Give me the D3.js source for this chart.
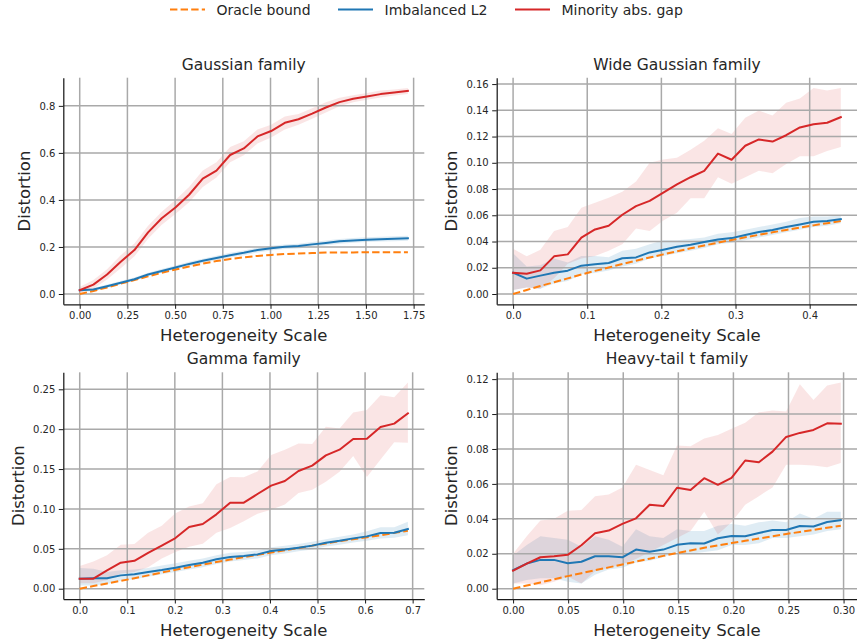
<!DOCTYPE html>
<html>
<head>
<meta charset="utf-8">
<script src="https://cdn.jsdelivr.net/npm/d3@7/dist/d3.min.js"></script>
<style>
  body { margin: 0; background: #fff; }
  svg text { font-family: "DejaVu Sans", sans-serif; fill: #262626; }
</style>
</head>
<body>
<svg id="fig" width="857" height="642"></svg>
<script>
// ---- series names ----
const seriesNames = ["Oracle bound", "Imbalanced L2", "Minority abs. gap"];

// ---- Gaussian family ----
const gaussX = [0.0, 0.0717, 0.1433, 0.215, 0.2867, 0.3583, 0.43, 0.5017, 0.5733, 0.645, 0.7167, 0.7883, 0.86, 0.9317, 1.0033, 1.075, 1.1467, 1.2183, 1.29, 1.3617, 1.4333, 1.505, 1.5767, 1.6483, 1.72];
const gaussOracle = [0.000, 0.013, 0.028, 0.044, 0.059, 0.075, 0.090, 0.104, 0.117, 0.129, 0.140, 0.149, 0.156, 0.162, 0.166, 0.170, 0.172, 0.174, 0.176, 0.177, 0.177, 0.178, 0.178, 0.178, 0.178];
const gaussL2 = [0.016, 0.019, 0.033, 0.048, 0.063, 0.083, 0.098, 0.113, 0.128, 0.141, 0.153, 0.165, 0.175, 0.187, 0.195, 0.201, 0.204, 0.211, 0.217, 0.224, 0.228, 0.231, 0.233, 0.235, 0.237];
const gaussL2Lo = [0.010, 0.012, 0.026, 0.041, 0.056, 0.076, 0.090, 0.105, 0.119, 0.132, 0.143, 0.155, 0.165, 0.177, 0.185, 0.191, 0.194, 0.201, 0.207, 0.214, 0.218, 0.221, 0.223, 0.224, 0.226];
const gaussL2Hi = [0.022, 0.026, 0.040, 0.055, 0.070, 0.090, 0.106, 0.121, 0.137, 0.150, 0.163, 0.175, 0.185, 0.197, 0.205, 0.211, 0.214, 0.221, 0.227, 0.234, 0.238, 0.241, 0.243, 0.246, 0.248];
const gaussGap = [0.016, 0.040, 0.083, 0.137, 0.187, 0.262, 0.322, 0.368, 0.422, 0.491, 0.525, 0.591, 0.619, 0.670, 0.693, 0.728, 0.743, 0.767, 0.793, 0.816, 0.830, 0.840, 0.850, 0.857, 0.864];
const gaussGapLo = [0.005, 0.022, 0.062, 0.110, 0.160, 0.235, 0.295, 0.340, 0.390, 0.455, 0.495, 0.560, 0.590, 0.640, 0.665, 0.700, 0.720, 0.745, 0.772, 0.798, 0.815, 0.826, 0.836, 0.844, 0.851];
const gaussGapHi = [0.030, 0.060, 0.105, 0.165, 0.215, 0.290, 0.350, 0.400, 0.455, 0.525, 0.560, 0.625, 0.650, 0.700, 0.720, 0.755, 0.765, 0.790, 0.815, 0.835, 0.845, 0.855, 0.865, 0.870, 0.876];
const gaussXTicks = [0, 0.25, 0.5, 0.75, 1.0, 1.25, 1.5, 1.75];
const gaussYTicks = [0, 0.2, 0.4, 0.6, 0.8];

// ---- Wide Gaussian family ----
const wideX = [0.0, 0.0184, 0.0368, 0.0553, 0.0737, 0.0921, 0.1105, 0.1289, 0.1473, 0.1658, 0.1842, 0.2026, 0.221, 0.2394, 0.2578, 0.2763, 0.2947, 0.3131, 0.3315, 0.3499, 0.3683, 0.3868, 0.4052, 0.4236, 0.442];
const wideOracle = [0.0, 0.0031, 0.0061, 0.0090, 0.0119, 0.0148, 0.0176, 0.0202, 0.0228, 0.0254, 0.0278, 0.0302, 0.0325, 0.0348, 0.0370, 0.0391, 0.0412, 0.0432, 0.0451, 0.0470, 0.0488, 0.0506, 0.0523, 0.0540, 0.0556];
const wideL2 = [0.0162, 0.0117, 0.0140, 0.0162, 0.0178, 0.0216, 0.0226, 0.0236, 0.0272, 0.0279, 0.0317, 0.0338, 0.0360, 0.0376, 0.0396, 0.0416, 0.0426, 0.0449, 0.0472, 0.0487, 0.0510, 0.0530, 0.0551, 0.0556, 0.0571];
const wideL2Lo = [0.003, 0.005, 0.004, 0.008, 0.010, 0.015, 0.016, 0.018, 0.021, 0.023, 0.027, 0.029, 0.031, 0.033, 0.035, 0.038, 0.039, 0.041, 0.043, 0.045, 0.047, 0.049, 0.051, 0.052, 0.054];
const wideL2Hi = [0.031, 0.021, 0.022, 0.027, 0.024, 0.029, 0.029, 0.028, 0.033, 0.0345, 0.038, 0.041, 0.041, 0.042, 0.043, 0.046, 0.047, 0.049, 0.051, 0.053, 0.055, 0.058, 0.059, 0.059, 0.060];
const wideGap = [0.0162, 0.0155, 0.0180, 0.0287, 0.0302, 0.0429, 0.0492, 0.0520, 0.0604, 0.0670, 0.0710, 0.0772, 0.0835, 0.0890, 0.0939, 0.1070, 0.1023, 0.1130, 0.1178, 0.1162, 0.1210, 0.1269, 0.1294, 0.1305, 0.1348];
const wideGapLo = [0.003, 0.005, 0.004, 0.012, 0.023, 0.027, 0.029, 0.033, 0.038, 0.050, 0.048, 0.056, 0.062, 0.073, 0.073, 0.089, 0.084, 0.089, 0.094, 0.092, 0.099, 0.105, 0.105, 0.109, 0.112];
const wideGapHi = [0.0345, 0.0287, 0.0338, 0.048, 0.051, 0.0657, 0.0695, 0.0733, 0.078, 0.0858, 0.100, 0.1025, 0.1038, 0.110, 0.1168, 0.1264, 0.122, 0.1343, 0.1398, 0.136, 0.1457, 0.149, 0.157, 0.155, 0.157];
const wideXTicks = [0, 0.1, 0.2, 0.3, 0.4];
const wideYTicks = [0, 0.02, 0.04, 0.06, 0.08, 0.10, 0.12, 0.14, 0.16];

// ---- Gamma family ----
const gammaX = [0.0, 0.0288, 0.0575, 0.0863, 0.115, 0.1438, 0.1725, 0.2013, 0.23, 0.2588, 0.2875, 0.3163, 0.345, 0.3738, 0.4025, 0.4313, 0.46, 0.4888, 0.5175, 0.5463, 0.575, 0.6038, 0.6325, 0.6613, 0.69];
const gammaOracle = [0.0, 0.0033, 0.0066, 0.0098, 0.0131, 0.0167, 0.0202, 0.0237, 0.0270, 0.0302, 0.0334, 0.0365, 0.0395, 0.0424, 0.0453, 0.0482, 0.0510, 0.0540, 0.0567, 0.0595, 0.0620, 0.0645, 0.0670, 0.0700, 0.0727];
const gammaL2 = [0.0125, 0.0130, 0.0130, 0.0167, 0.0180, 0.0209, 0.0234, 0.0263, 0.0297, 0.0326, 0.0368, 0.0397, 0.0410, 0.0430, 0.0472, 0.0490, 0.0514, 0.0540, 0.0577, 0.0602, 0.0631, 0.0656, 0.0698, 0.0702, 0.0748];
const gammaL2Lo = [0.004, 0.004, 0.006, 0.010, 0.012, 0.015, 0.018, 0.021, 0.024, 0.027, 0.031, 0.034, 0.036, 0.038, 0.042, 0.044, 0.047, 0.049, 0.053, 0.055, 0.058, 0.060, 0.063, 0.064, 0.067];
const gammaL2Hi = [0.026, 0.025, 0.021, 0.023, 0.024, 0.026, 0.029, 0.032, 0.035, 0.038, 0.042, 0.045, 0.046, 0.048, 0.052, 0.054, 0.056, 0.059, 0.062, 0.065, 0.068, 0.072, 0.077, 0.077, 0.084];
const gammaGap = [0.0125, 0.0125, 0.0230, 0.0326, 0.0350, 0.0450, 0.0540, 0.0635, 0.0773, 0.0811, 0.0932, 0.1079, 0.1079, 0.1187, 0.1292, 0.1350, 0.1476, 0.1543, 0.1672, 0.1743, 0.1877, 0.1881, 0.2028, 0.2070, 0.2199];
const gammaGapLo = [0.0067, 0.0067, 0.0110, 0.0190, 0.0210, 0.0268, 0.0380, 0.0460, 0.0525, 0.0565, 0.0700, 0.0760, 0.0845, 0.0940, 0.0990, 0.1055, 0.1200, 0.1240, 0.1340, 0.1465, 0.1665, 0.1400, 0.1620, 0.1835, 0.1830];
const gammaGapHi = [0.0284, 0.0340, 0.0420, 0.0550, 0.0560, 0.0700, 0.0790, 0.0945, 0.1030, 0.1070, 0.1310, 0.1400, 0.1396, 0.1470, 0.1676, 0.1743, 0.1820, 0.1814, 0.2032, 0.2010, 0.2210, 0.2240, 0.2425, 0.2400, 0.2584];
const gammaXTicks = [0, 0.1, 0.2, 0.3, 0.4, 0.5, 0.6, 0.7];
const gammaYTicks = [0, 0.05, 0.10, 0.15, 0.20, 0.25];

// ---- Heavy-tail t family ----
const heavyX = [0.0, 0.0124, 0.0248, 0.0372, 0.0496, 0.062, 0.0744, 0.0868, 0.0992, 0.1116, 0.124, 0.1364, 0.1488, 0.1611, 0.1735, 0.1859, 0.1983, 0.2107, 0.2231, 0.2355, 0.2479, 0.2603, 0.2727, 0.2851, 0.2975];
const heavyOracle = [0.0, 0.0018, 0.0036, 0.0054, 0.0072, 0.0089, 0.0106, 0.0122, 0.0139, 0.0155, 0.0172, 0.0188, 0.0204, 0.0219, 0.0234, 0.0248, 0.0261, 0.0274, 0.0287, 0.0300, 0.0313, 0.0325, 0.0337, 0.0349, 0.0361];
const heavyL2 = [0.0106, 0.0144, 0.0165, 0.0165, 0.0146, 0.0154, 0.0186, 0.0186, 0.0180, 0.0224, 0.0211, 0.0224, 0.0251, 0.0260, 0.0259, 0.0289, 0.0302, 0.0300, 0.0319, 0.0336, 0.0336, 0.0359, 0.0356, 0.0382, 0.0392];
const heavyL2Lo = [0.003, 0.005, 0.006, 0.006, 0.004, 0.003, 0.008, 0.011, 0.012, 0.015, 0.016, 0.018, 0.021, 0.020, 0.021, 0.022, 0.025, 0.025, 0.026, 0.029, 0.029, 0.030, 0.031, 0.033, 0.034];
const heavyL2Hi = [0.019, 0.025, 0.030, 0.029, 0.028, 0.024, 0.030, 0.028, 0.024, 0.034, 0.030, 0.029, 0.034, 0.033, 0.033, 0.036, 0.037, 0.036, 0.038, 0.039, 0.038, 0.043, 0.040, 0.044, 0.044];
const heavyGap = [0.0103, 0.0143, 0.0180, 0.0186, 0.0194, 0.0249, 0.0317, 0.0333, 0.0371, 0.0403, 0.0481, 0.0473, 0.0578, 0.0565, 0.0633, 0.0595, 0.0635, 0.0734, 0.0724, 0.0785, 0.0869, 0.0892, 0.0909, 0.0947, 0.0945];
const heavyGapLo = [0.003, 0.003, 0.002, 0.004, 0.007, 0.003, 0.010, 0.012, 0.014, 0.017, 0.021, 0.025, 0.029, 0.033, 0.044, 0.031, 0.038, 0.048, 0.053, 0.058, 0.071, 0.071, 0.0705, 0.0695, 0.072];
const heavyGapHi = [0.020, 0.030, 0.039, 0.040, 0.0446, 0.045, 0.053, 0.054, 0.058, 0.071, 0.068, 0.065, 0.082, 0.0815, 0.086, 0.088, 0.0916, 0.095, 0.101, 0.102, 0.1015, 0.117, 0.108, 0.1164, 0.118];
const heavyXTicks = [0, 0.05, 0.10, 0.15, 0.20, 0.25, 0.30];
const heavyYTicks = [0, 0.02, 0.04, 0.06, 0.08, 0.10, 0.12];

// ---- figure layout and styling ----
const COLORS = { oracle: "#ff7f0e", l2: "#1f77b4", gap: "#d62728" };
const panels = [
  { title: "Gaussian family", x: gaussX, oracle: gaussOracle, l2: gaussL2, l2Lo: gaussL2Lo, l2Hi: gaussL2Hi,
    gap: gaussGap, gapLo: gaussGapLo, gapHi: gaussGapHi, xTicks: gaussXTicks, yTicks: gaussYTicks,
    xFmt: d3.format(".2f"), yFmt: d3.format(".1f"), left: 63.3, top: 77.7, width: 361, height: 226.6 },
  { title: "Wide Gaussian family", x: wideX, oracle: wideOracle, l2: wideL2, l2Lo: wideL2Lo, l2Hi: wideL2Hi,
    gap: wideGap, gapLo: wideGapLo, gapHi: wideGapHi, xTicks: wideXTicks, yTicks: wideYTicks,
    xFmt: d3.format(".1f"), yFmt: d3.format(".2f"), left: 496.7, top: 77.7, width: 360.5, height: 226.6 },
  { title: "Gamma family", x: gammaX, oracle: gammaOracle, l2: gammaL2, l2Lo: gammaL2Lo, l2Hi: gammaL2Hi,
    gap: gammaGap, gapLo: gammaGapLo, gapHi: gammaGapHi, xTicks: gammaXTicks, yTicks: gammaYTicks,
    xFmt: d3.format(".1f"), yFmt: d3.format(".2f"), left: 63.3, top: 372.3, width: 361, height: 226.7 },
  { title: "Heavy-tail t family", x: heavyX, oracle: heavyOracle, l2: heavyL2, l2Lo: heavyL2Lo, l2Hi: heavyL2Hi,
    gap: heavyGap, gapLo: heavyGapLo, gapHi: heavyGapHi, xTicks: heavyXTicks, yTicks: heavyYTicks,
    xFmt: d3.format(".2f"), yFmt: d3.format(".2f"), left: 496.7, top: 372.3, width: 360.5, height: 226.7 }
];

const svg = d3.select("#fig");

// padded extent, 5% margin on each side
function padded(values) {
  const [lo, hi] = d3.extent(values);
  const m = (hi - lo) * 0.05;
  return [lo - m, hi + m];
}

panels.forEach(p => {
  const xs = d3.scaleLinear().domain(padded(p.x)).range([p.left, p.left + p.width]);
  const allY = [].concat(p.oracle, p.l2, p.l2Lo, p.l2Hi, p.gap, p.gapLo, p.gapHi);
  const ys = d3.scaleLinear().domain(padded(allY)).range([p.top + p.height, p.top]);
  const g = svg.append("g");

  const idx = d3.range(p.x.length);
  const band = (lo, hi) => d3.area().x(i => xs(p.x[i])).y0(i => ys(lo[i])).y1(i => ys(hi[i]));
  const line = arr => d3.line().x(i => xs(p.x[i])).y(i => ys(arr[i]));

  // confidence bands
  g.append("path").attr("d", band(p.l2Lo, p.l2Hi)(idx))
    .attr("fill", COLORS.l2).attr("fill-opacity", 0.14);
  g.append("path").attr("d", band(p.gapLo, p.gapHi)(idx))
    .attr("fill", COLORS.gap).attr("fill-opacity", 0.12);

  // grid
  const grid = g.append("g").attr("stroke", "#a9a9a9").attr("stroke-width", 1.5);
  grid.selectAll("line.v").data(p.xTicks).join("line")
    .attr("x1", d => xs(d)).attr("x2", d => xs(d))
    .attr("y1", p.top).attr("y2", p.top + p.height);
  grid.selectAll("line.h").data(p.yTicks).join("line")
    .attr("x1", p.left).attr("x2", p.left + p.width)
    .attr("y1", d => ys(d)).attr("y2", d => ys(d));

  // series lines
  g.append("path").attr("d", line(p.oracle)(idx)).attr("fill", "none")
    .attr("stroke", COLORS.oracle).attr("stroke-width", 2).attr("stroke-dasharray", "7.4,3.2");
  g.append("path").attr("d", line(p.l2)(idx)).attr("fill", "none")
    .attr("stroke", COLORS.l2).attr("stroke-width", 2).attr("stroke-linejoin", "round").attr("stroke-linecap", "square");
  g.append("path").attr("d", line(p.gap)(idx)).attr("fill", "none")
    .attr("stroke", COLORS.gap).attr("stroke-width", 2).attr("stroke-linejoin", "round").attr("stroke-linecap", "square");

  // axes (left and bottom spines only)
  const xAxis = g.append("g").attr("transform", `translate(0,${p.top + p.height})`)
    .call(d3.axisBottom(xs).tickValues(p.xTicks).tickFormat(p.xFmt).tickSize(4.5).tickSizeOuter(0).tickPadding(3.5));
  const yAxis = g.append("g").attr("transform", `translate(${p.left},0)`)
    .call(d3.axisLeft(ys).tickValues(p.yTicks).tickFormat(p.yFmt).tickSize(4.5).tickSizeOuter(0).tickPadding(3.5));
  [xAxis, yAxis].forEach(a => {
    a.select(".domain").attr("stroke", "#1a1a1a").attr("stroke-width", 1.25);
    a.selectAll(".tick line").attr("stroke", "#1a1a1a").attr("stroke-width", 1);
    a.selectAll(".tick text").attr("font-size", 10).attr("font-family", "DejaVu Sans").attr("fill", "#262626");
  });

  // title and axis labels
  const cx = p.left + p.width / 2;
  g.append("text").attr("x", cx).attr("y", p.top - 8).attr("text-anchor", "middle")
    .attr("font-size", 15.5).text(p.title);
  g.append("text").attr("x", cx).attr("y", p.top + p.height + 37).attr("text-anchor", "middle")
    .attr("font-size", 16.5).text("Heterogeneity Scale");
  // y label sits just left of the widest tick label
  const yb = yAxis.node().getBBox();
  const labelX = p.left + yb.x - 9;
  g.append("text")
    .attr("transform", `translate(${labelX},${p.top + p.height / 2}) rotate(-90)`)
    .attr("text-anchor", "middle").attr("font-size", 16.5).text("Distortion");
});

// legend across the top
const legendItems = [
  { name: seriesNames[0], color: COLORS.oracle, dash: "7.4,3.2", x: 170 },
  { name: seriesNames[1], color: COLORS.l2, dash: null, x: 338 },
  { name: seriesNames[2], color: COLORS.gap, dash: null, x: 515 }
];
const legend = svg.append("g");
legendItems.forEach(it => {
  legend.append("line").attr("x1", it.x).attr("x2", it.x + 35).attr("y1", 9.5).attr("y2", 9.5)
    .attr("stroke", it.color).attr("stroke-width", 2).attr("stroke-dasharray", it.dash);
  legend.append("text").attr("x", it.x + 46.5).attr("y", 14.5).attr("font-size", 14).text(it.name);
});
</script>
</body>
</html>
